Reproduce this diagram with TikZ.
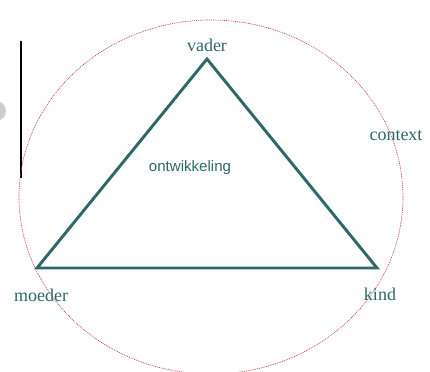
\documentclass[tikz,border=0pt]{standalone}
\usepackage{fontspec}
\setmainfont{Liberation Serif}
\setsansfont{Liberation Sans}
\definecolor{familyteal}{RGB}{47,104,104}
\definecolor{contextred}{RGB}{196,60,78}

\begin{document}
\begin{tikzpicture}[x=0.75pt,y=0.75pt,yscale=-1,xscale=1,
    role/.style={text=familyteal,font=\fontsize{13.5}{15}\selectfont,inner sep=0.75pt},
    centre/.style={text=familyteal,font=\sffamily\fontsize{11.3}{13}\selectfont,inner sep=0.75pt}]
    \useasboundingbox (0,0) rectangle (430,372);
    \clip (0,0) rectangle (430,372);

    %Circle (partly off page)
    \fill [black!20] (-4,111) circle (10);
    %Straight Lines
    \draw [line width=2pt] (21,41) -- (21,178);

    %Ellipse (context)
    \draw [contextred, line width=0.5pt, dash pattern=on 0.7pt off 0.7pt] (211,197) ellipse [x radius=192, y radius=177];

    %Triangle
    \coordinate (top) at (207,59);
    \coordinate (left) at (37,268);
    \coordinate (right) at (377,268);
    \draw [familyteal, line width=2.2pt, line join=miter] (top) -- (right) -- (left) -- cycle;

    % Text Node
    \node [role] (vader) at (207,45) {vader};
    % Text Node
    \node [role] (context) at (396,136) {context};
    % Text Node
    \node [role] (moeder) at (41,295) {moeder};
    % Text Node
    \node [role] (kind) at (380,294) {kind};
    % Text Node
    \node [centre] (ontwikkeling) at (190,168) {ontwikkeling};

\end{tikzpicture}
\end{document}
